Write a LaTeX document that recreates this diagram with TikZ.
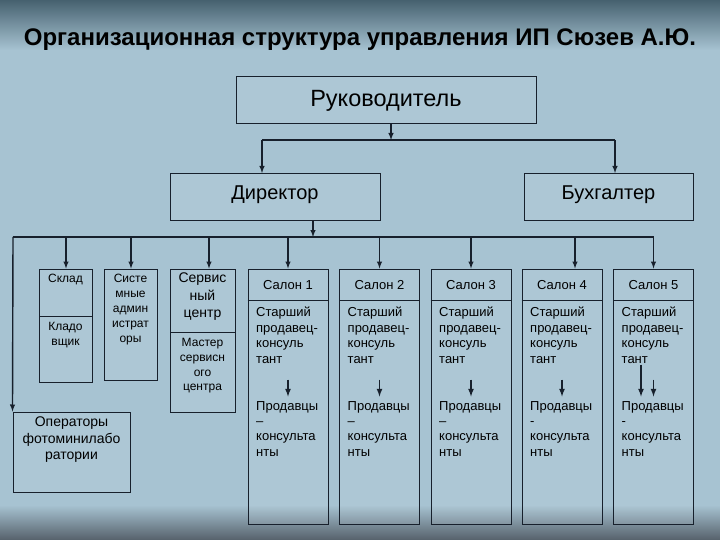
\documentclass[tikz,border=0pt]{standalone}
\usepackage{fontspec}
\setmainfont{Liberation Sans}
\usetikzlibrary{positioning}
\tikzset{>=latex}
\definecolor{lineblue}{HTML}{17202C}
\definecolor{bgtop}{HTML}{46616F}
\definecolor{bgmid}{HTML}{A7C3D2}
\definecolor{bgbot}{HTML}{56616B}
\tikzset{
  box/.style={draw=lineblue, line width=1pt, fill=white, fill opacity=0.07, text opacity=1, inner sep=0pt},
  link/.style={->, draw=lineblue, line width=1.4pt},
  bus/.style={draw=lineblue, line width=1.1pt},
  split/.style={draw=lineblue, line width=1pt},
  inner/.style={inner sep=0pt, align=center, font=\fontsize{12}{15}\selectfont}
}
\begin{document}
\begin{tikzpicture}[x=1pt,y=-1pt]
% background
\shade [top color=bgtop, bottom color=bgmid] (0,0) rectangle (720,50);
\fill [bgmid] (0,50) rectangle (720,505);
\shade [top color=bgmid, bottom color=bgbot] (0,505) rectangle (720,540);
\useasboundingbox (0,0) rectangle (720,540);

\node [font=\bfseries\fontsize{24}{27}\selectfont] (title) at (360,40) {Организационная структура управления ИП Сюзев А.Ю.};

% top levels
\node [box, minimum width=300pt, minimum height=47pt, font=\fontsize{23.5}{26}\selectfont] (ruk) at (386,100.5) {Руководитель};
\node [box, minimum width=210pt, minimum height=47pt, text depth=8pt, font=\fontsize{20}{23}\selectfont] (dir) at (275,197) {Директор};
\node [box, minimum width=169pt, minimum height=47pt, text depth=8pt, font=\fontsize{20}{23}\selectfont] (buh) at (608.5,197) {Бухгалтер};

\coordinate (b1) at (391,140);
\coordinate (b1l) at (262,140);
\coordinate (b1r) at (615,140);
\draw [link] (ruk.south -| b1) -- (b1);
\draw [bus] (b1l) -- (b1r);
\draw [link] (b1l) -- (b1l |- dir.north);
\draw [link] (b1r) -- (b1r |- buh.north);

\coordinate (b2) at (313,237);
\coordinate (b2l) at (13,237);
\coordinate (b2r) at (654,237);
\draw [link] (dir.south -| b2) -- (b2);
\draw [bus] (b2l) -- (b2r);

% left units
\node [box, minimum width=53pt, minimum height=113pt] (sklad) at (65.5,325.5) {};
\draw [split] (39,316) -- (92,316);
\node [inner] (skladT) at (65.5,280) {Склад};
\node [inner, anchor=north] (kladT) at (65.5,322) {Кладо\\вщик};
\draw [link] (66,237) -- (sklad.north -| 66,0);

\node [box, minimum width=53pt, minimum height=111pt] (sysadm) at (130.5,324.5) {};
\node [inner, anchor=north] (sysadmT) at (130.5,274) {Систе\\мные\\админ\\истрат\\оры};
\draw [link] (131,237) -- (sysadm.north -| 131,0);

\node [box, minimum width=65pt, minimum height=143pt] (serv) at (202.5,340.5) {};
\draw [split] (170,332) -- (235,332);
\node [inner, anchor=north, font=\fontsize{14}{17.5}\selectfont] (servT) at (202.5,273) {Сервис\\ный\\центр};
\node [inner, anchor=north, font=\fontsize{12}{14.8}\selectfont] (masterT) at (202.5,338) {Мастер\\сервисн\\ого\\центра};
\draw [link] (209,237) -- (serv.north -| 209,0);

\node [box, minimum width=117pt, minimum height=80pt] (oper) at (71.5,452) {};
\node [inner, anchor=north, font=\fontsize{14}{16.5}\selectfont] (operT) at (71.5,417) {Операторы\\фотоминилабо\\ратории};
\draw [link] (b2l) -- (oper.north west);

% salons
\foreach \i/\cx/\ax/\dsh in {1/288/288/–, 2/379.5/379.5/–, 3/471/471/–, 4/562/575/-, 5/653.5/653.5/-} {
  \node [box, minimum width=80pt, minimum height=255pt] (s\i) at (\cx,396.5) {};
  \draw [split, line width=1.3pt] ([yshift=-32pt]s\i.north west) -- ([yshift=-32pt]s\i.north east);
  \node [inner, font=\fontsize{13}{15}\selectfont] (st\i) at (\cx,285) {Салон \i};
  \node [inner, align=left, font=\fontsize{13}{15.5}\selectfont, anchor=north west] (sp\i) at ([xshift=8.5pt,yshift=-38.5pt]s\i.north west) {Старший\\продавец-\\консуль\\тант};
  \node [inner, align=left, font=\fontsize{13}{15.3}\selectfont, anchor=north west] (pk\i) at ([xshift=8.5pt,yshift=-132.5pt]s\i.north west) {Продавцы\\\dsh\\консульта\\нты};
  \draw [link, line width=1.6pt] ([yshift=-111pt]s\i.north) -- ([yshift=-128pt]s\i.north);
  \draw [link] (\ax,237) -- (s\i.north -| \ax,0);
}
\draw [link, line width=1.6pt] ([xshift=-12.5pt,yshift=-96pt]s5.north) -- ([xshift=-12.5pt,yshift=-128pt]s5.north);
\end{tikzpicture}
\end{document}
